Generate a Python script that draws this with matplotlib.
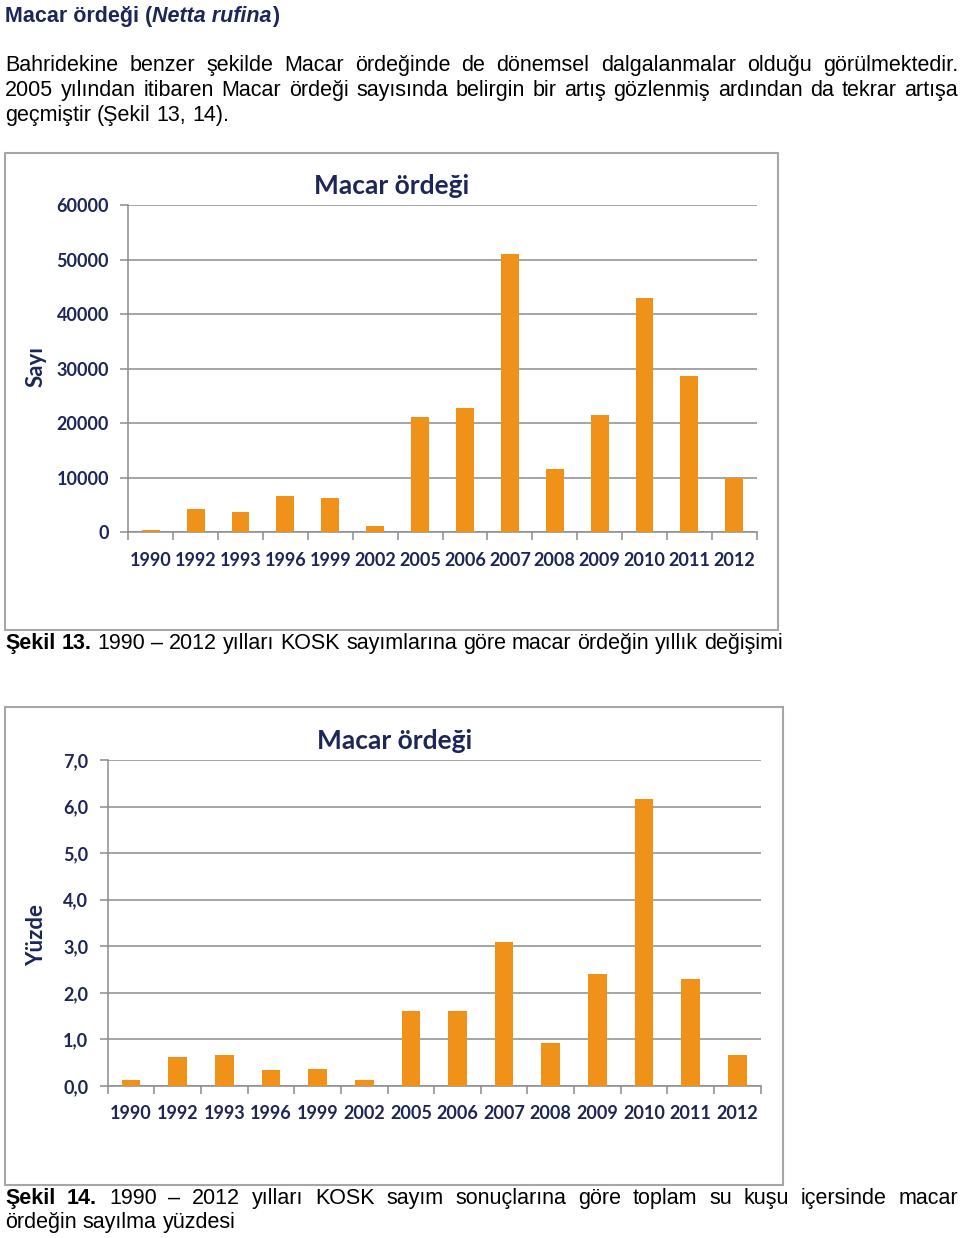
import matplotlib
matplotlib.use('Agg')
import matplotlib.pyplot as plt
from matplotlib.patches import Rectangle
import numpy as np

# Data
years = ['1990', '1992', '1993', '1996', '1999', '2002', '2005', '2006',
         '2007', '2008', '2009', '2010', '2011', '2012']
counts = [500, 4300, 3800, 6600, 6200, 1100, 21100, 22700,
          51100, 11600, 21500, 43000, 28700, 10000]
percent = [0.13, 0.62, 0.66, 0.35, 0.37, 0.13, 1.60, 1.60,
           3.09, 0.92, 2.41, 6.17, 2.29, 0.66]
count_ticks = [0, 10000, 20000, 30000, 40000, 50000, 60000]
percent_ticks = [0, 1, 2, 3, 4, 5, 6, 7]

W, H = 960, 1238
NAVY = '#1c2657'
ORANGE = '#f0921a'
GRID = '#8c8c8c'
TXT = 'Liberation Sans'
CHART = 'Lato'

fig = plt.figure(figsize=(W / 100, H / 100), dpi=100)
fig.patch.set_facecolor('white')
renderer = fig.canvas.get_renderer()


def fx(x):
    return x / W


def fy(y):
    return 1 - y / H


def text_width(s, **kw):
    t = fig.text(0, 0, s, **kw)
    w = t.get_window_extent(renderer).width
    t.remove()
    return w


def space_width(**kw):
    return text_width('a a', **kw) - text_width('aa', **kw)


def draw_words(words, y, x0, x1=None, size=15.5, color='black'):
    # words: list of (text, weight, style); justify when x1 given
    kws = [dict(fontsize=size, fontweight=wt, fontstyle=st, family=TXT, color=color)
           for _, wt, st in words]
    widths = [text_width(w, **k) for (w, _, _), k in zip(words, kws)]
    if x1 is None:
        gap = space_width(**kws[-1])
    else:
        gap = (x1 - x0 - sum(widths)) / (len(words) - 1)
    x = x0
    for (w, _, _), k, wd in zip(words, kws, widths):
        fig.text(fx(x), fy(y + 6), w, va='baseline', ha='left', **k)
        x += wd + gap


def plain(s, wt='normal', st='normal'):
    return [(w, wt, st) for w in s.split()]


# Heading with italic species name
def draw_runs(x, y, runs, size=15.5, color=NAVY):
    for s, wt, st in runs:
        k = dict(fontsize=size, fontweight=wt, fontstyle=st, family=TXT, color=color)
        fig.text(fx(x), fy(y + 6), s, va='baseline', ha='left', **k)
        x += text_width(s, **k)


draw_runs(5, 16, [('Macar ördeği (', 'bold', 'normal'),
                  ('Netta rufina', 'bold', 'italic'),
                  (')', 'bold', 'normal')])

draw_words(plain('Bahridekine benzer şekilde Macar ördeğinde de dönemsel '
                 'dalgalanmalar olduğu görülmektedir.'), 65, 5, 958)
draw_words(plain('2005 yılından itibaren Macar ördeği sayısında belirgin bir '
                 'artış gözlenmiş ardından da tekrar artışa'), 90, 5, 958)
draw_words(plain('geçmiştir (Şekil 13, 14).'), 115, 5)


def make_chart(box, ax_box, values, ticks, ylabel, fmt, title_xy, ylab_xy):
    # outer frame
    bx0, by0, bx1, by1 = box
    fig.patches.append(Rectangle((fx(bx0), fy(by1)), fx(bx1 - bx0), (by1 - by0) / H,
                                 transform=fig.transFigure, facecolor='white',
                                 edgecolor='#a6a6a6', lw=1.5, zorder=-5))
    l, t, r, b = ax_box
    ax = fig.add_axes([fx(l), fy(b), fx(r - l), (b - t) / H])
    ax.set_zorder(2)
    ax.set_facecolor('none')
    x = np.arange(len(years))
    ax.bar(x, values, width=0.4, color=ORANGE, zorder=3)
    ax.set_xlim(-0.5, len(years) - 0.5)
    ax.set_ylim(ticks[0], ticks[-1])
    ax.set_yticks(ticks)
    ax.set_yticklabels([fmt(v) for v in ticks])
    ax.yaxis.grid(True, color=GRID, lw=1.1, zorder=0)
    ax.set_xticks(np.arange(-0.5, len(years)), minor=False)
    ax.set_xticklabels([])
    ax.set_xticks(x, minor=True)
    ax.set_xticklabels(years, minor=True)
    ax.tick_params(axis='x', which='major', length=6, color=GRID, width=1.1)
    ax.tick_params(axis='x', which='minor', length=0, pad=14)
    ax.tick_params(axis='y', length=6, color=GRID, width=1.1, pad=8)
    for lab in ax.get_xticklabels(minor=True) + ax.get_yticklabels():
        lab.set_fontfamily(CHART)
        lab.set_fontweight('bold')
        lab.set_fontsize(13)
        lab.set_color(NAVY)
    for s in ['top', 'right']:
        ax.spines[s].set_visible(False)
    for s in ['left', 'bottom']:
        ax.spines[s].set_color(GRID)
        ax.spines[s].set_linewidth(1.1)
    fig.text(fx(title_xy[0]), fy(title_xy[1]), 'Macar ördeği', ha='center', va='center',
             family=CHART, fontweight='bold', fontsize=19, color=NAVY)
    fig.text(fx(ylab_xy[0]), fy(ylab_xy[1]), ylabel, ha='center', va='center', rotation=90,
             family=CHART, fontweight='bold', fontsize=16, color=NAVY)
    return ax


make_chart((5, 153, 778, 630), (128.3, 205, 756.7, 532.3), counts, count_ticks,
           'Sayı', lambda v: f'{v:d}', (392, 186), (36, 367))
make_chart((5, 707, 783, 1185), (107.7, 760, 760.7, 1086), percent, percent_ticks,
           'Yüzde', lambda v: f'{v:.1f}'.replace('.', ','), (395, 741), (37, 935))

# Captions
draw_words([('Şekil', 'bold', 'normal'), ('13.', 'bold', 'normal')]
           + plain('1990 – 2012 yılları KOSK sayımlarına göre macar ördeğin yıllık değişimi'),
           643, 5)
draw_words([('Şekil', 'bold', 'normal'), ('14.', 'bold', 'normal')]
           + plain('1990 – 2012 yılları KOSK sayım sonuçlarına göre toplam su kuşu içersinde macar'),
           1198, 5, 958)
draw_words(plain('ördeğin sayılma yüzdesi'), 1222, 5)

fig.savefig('out.png', dpi=100, facecolor='white')
